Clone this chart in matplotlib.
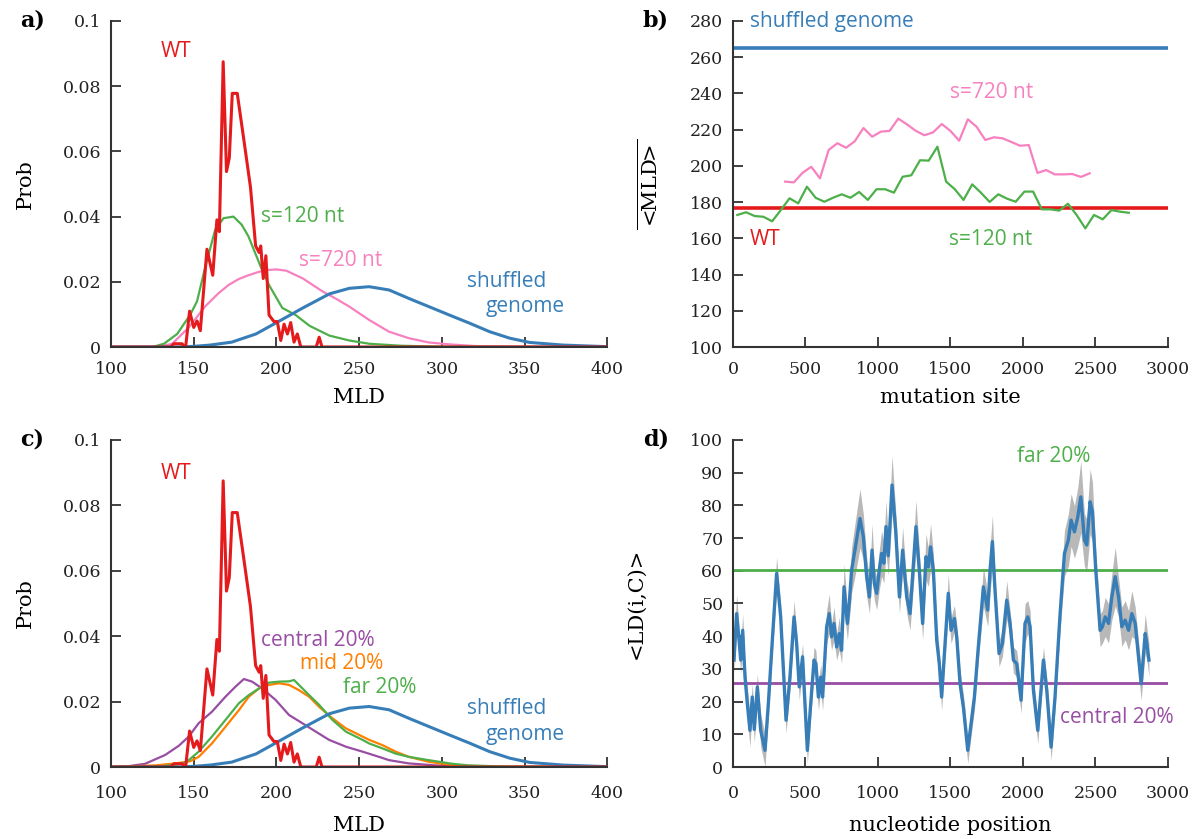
import matplotlib
matplotlib.use('Agg')
import matplotlib.pyplot as plt
import numpy as np

plt.rcParams['font.family'] = 'DejaVu Serif'
plt.rcParams['mathtext.fontset'] = 'dejavuserif'

RED = '#e41a1c'
BLUE = '#377eb8'
GREEN = '#4daf4a'
PINK = '#f781bf'
PURPLE = '#984ea3'
ORANGE = '#ff7f00'
AXC = '#333333'
SANS = 'Open Sans'

# ---- MLD distributions (panels a and c) ----
wt_x = [100, 136, 138, 143, 145, 147.5, 150, 152, 154, 158, 161.5, 164, 165.5, 167.8, 169.8,
        171.5, 173.3, 176.3, 180.3, 184.3, 187.4, 189.5, 190.5, 192, 193.6, 195.5, 198.5,
        200.5, 202.6, 204.6, 206.6, 208.6, 210.6, 212.6, 214.7, 224, 225.8, 227.5, 400]
wt_p = [0, 0, 0.001, 0.001, -0.0005, 0.011, 0.006, 0.008, 0.005, 0.030, 0.022, 0.039, 0.0354,
        0.0875, 0.0538, 0.058, 0.0778, 0.0778, 0.0635, 0.049, 0.031, 0.029, 0.031, 0.021, 0.028,
        0.0098, 0.0078, 0.0078, 0.002, 0.007, 0.004, 0.0075, 0.0015, 0.004, 0, 0, 0.003, 0, 0]

shuf_x = [100, 140, 150, 160, 173, 187.6, 200.8, 216, 232, 244, 256, 268, 280, 292, 304.5,
          316.7, 328.8, 341, 353, 373, 400]
shuf_p = [0, 0, 0.0002, 0.0006, 0.0015, 0.004, 0.0077, 0.012, 0.0163, 0.018, 0.0185, 0.0175,
          0.0149, 0.0124, 0.0098, 0.0073, 0.0047, 0.0027, 0.0014, 0.0006, 0.0001]

s120_x = [100, 125, 132, 140, 148, 152, 157, 163, 168, 174, 179, 183, 187, 191, 195.5, 203.5,
          211.6, 220, 232, 244, 256, 275, 300, 400]
s120_p = [0, 0, 0.001, 0.004, 0.010, 0.014, 0.0246, 0.036, 0.0395, 0.040, 0.0375, 0.034, 0.029,
          0.024, 0.019, 0.012, 0.0098, 0.0065, 0.0035, 0.002, 0.001, 0.0004, 0.0001, 0]

s720_x = [100, 128, 137, 147, 157, 165, 171, 177, 183, 189, 194, 200, 206, 216, 228, 236, 244,
          256, 268, 280, 292, 305, 320, 350, 400]
s720_p = [0, 0, 0.001, 0.006, 0.0125, 0.0165, 0.019, 0.0208, 0.022, 0.023, 0.0236, 0.0238,
          0.0234, 0.021, 0.017, 0.0148, 0.0124, 0.0083, 0.0047, 0.0027, 0.0014, 0.0008, 0.0003,
          0.0001, 0]

central_x = [100, 110, 120.7, 132.8, 141, 147, 153, 161, 169.2, 175.3, 180.3, 185.3, 191.4,
             199.5, 207.6, 215.6, 223.8, 231.8, 242, 252, 262, 268, 280, 296, 320, 400]
central_p = [0, 0.0002, 0.001, 0.0037, 0.0065, 0.0093, 0.0134, 0.0169, 0.0215, 0.0246, 0.0269,
             0.0261, 0.024, 0.0205, 0.0159, 0.0134, 0.0108, 0.0083, 0.0062, 0.0047, 0.0031,
             0.0021, 0.0011, 0.0005, 0.0001, 0]

mid_x = [100, 126.8, 136.8, 144.9, 148, 153, 161, 169.2, 177.3, 183.3, 189.4, 195.5, 201.5,
         207.6, 213.6, 219.7, 225.8, 233.8, 242, 252, 256, 264, 272, 280, 292, 306, 330, 400]
mid_p = [0, 0.0005, 0.001, 0.0015, 0.0018, 0.0031, 0.0072, 0.0123, 0.0174, 0.0215, 0.024,
         0.0251, 0.0256, 0.0251, 0.0235, 0.0215, 0.0184, 0.0149, 0.0118, 0.0093, 0.0083,
         0.0067, 0.0047, 0.0031, 0.0016, 0.0006, 0.0001, 0]

far_x = [100, 130, 143, 147, 153, 161, 169.2, 177.3, 183.3, 189.4, 195.5, 201.5, 207.6, 210.6,
         213.6, 219.7, 225.8, 233.8, 242, 252, 256, 264, 272, 280, 292, 306, 316, 340, 400]
far_p = [0, 0.0002, 0.001, 0.0021, 0.0047, 0.0093, 0.0144, 0.0195, 0.022, 0.024, 0.0258, 0.0261,
         0.0262, 0.0266, 0.0251, 0.022, 0.019, 0.0144, 0.0108, 0.0083, 0.0072, 0.0057, 0.0041,
         0.0031, 0.0021, 0.001, 0.0005, 0.0001, 0]

# ---- panel b: mean MLD vs mutation site ----
wt_mean = 177
shuf_mean = 265
site120 = [30 + 60 * i for i in range(46)]
mld120 = [172.9, 174.4, 172.3, 171.9, 169.4, 175.6, 182.1, 179.3, 188.5, 182.4,
          180.2, 182.4, 184.3, 182.4, 185.6, 181.2, 187.1, 187.1, 185.2, 194.0,
          194.8, 203.1, 202.9, 210.6, 191.3, 187.1, 181.2, 189.8, 185.2, 180.1,
          184.3, 181.9, 180.2, 185.8, 185.8, 176.0, 176.0, 175.3, 179.1, 172.9,
          165.5, 172.9, 170.5, 175.6, 174.7, 174.1]
site720 = [360 + 60 * i for i in range(36)]
mld720 = [191.3, 190.9, 196.2, 199.5, 193.1, 208.8, 212.5, 210.0, 213.6, 220.9,
          216.1, 218.9, 219.3, 226.1, 222.9, 219.4, 216.9, 218.5, 223.1, 219.3,
          213.9, 225.7, 221.6, 214.3, 215.8, 215.2, 213.2, 211.1, 211.5, 196.1,
          197.7, 195.3, 195.3, 195.5, 193.9, 195.9]

# ---- panel d: <LD(i,C)> vs nucleotide position ----
pos = [7, 25, 44, 53, 67, 83, 99, 117, 133, 147,
       168, 191, 221, 244, 267, 301, 329, 366, 393, 421,
       439, 457, 480, 513, 531, 559, 572, 589, 605, 618,
       646, 664, 680, 697, 715, 733, 749, 766, 789, 802,
       818, 841, 876, 899, 922, 941, 959, 975, 991, 1009,
       1025, 1041, 1055, 1071, 1097, 1122, 1148, 1170, 1198, 1221,
       1262, 1285, 1308, 1331, 1347, 1363, 1382, 1405, 1423, 1439,
       1462, 1485, 1504, 1527, 1543, 1566, 1589, 1619, 1642, 1665,
       1692, 1727, 1757, 1773, 1789, 1807, 1835, 1858, 1888, 1911,
       1934, 1957, 1987, 2014, 2033, 2049, 2072, 2102, 2141, 2164,
       2194, 2221, 2256, 2286, 2313, 2332, 2355, 2378, 2399, 2424,
       2440, 2463, 2479, 2502, 2532, 2548, 2567, 2590, 2613, 2636,
       2659, 2682, 2705, 2728, 2751, 2774, 2792, 2815, 2843, 2854,
       2869]
ld = [32.7, 46.9, 37.8, 32.7, 41.8, 27.5, 19.4, 11.2, 21.4, 11.5,
      24.5, 11.2, 5.1, 19.4, 35.7, 59.2, 45.9, 14.3, 27.5, 45.9,
      37.8, 24.5, 33.7, 5.1, 16.3, 32.7, 31.6, 21.4, 27.5, 21.4,
      42.9, 46.9, 39.8, 43.9, 36.7, 40.8, 35.7, 55.1, 43.9, 50.0,
      60.2, 66.3, 76.0, 70.4, 58.2, 52.0, 66.3, 56.1, 53.1, 60.2,
      65.3, 62.3, 73.5, 64.6, 86.2, 72.5, 52.0, 66.3, 52.0, 46.9,
      73.5, 60.2, 43.9, 64.3, 61.2, 67.3, 60.2, 38.8, 31.6, 21.4,
      37.0, 53.1, 41.8, 45.4, 39.8, 25.5, 18.4, 5.1, 13.3, 21.4,
      36.7, 55.1, 48.0, 60.2, 68.9, 54.1, 34.7, 37.8, 51.0, 43.9,
      32.7, 31.6, 20.4, 43.9, 45.9, 42.9, 23.5, 11.2, 32.7, 23.5,
      6.1, 21.4, 46.9, 65.3, 69.4, 75.5, 71.9, 76.5, 82.6, 69.4,
      67.9, 81.1, 78.1, 60.2, 41.8, 42.9, 45.9, 43.9, 52.0, 58.2,
      52.0, 42.9, 44.9, 41.8, 46.9, 43.9, 35.7, 25.5, 40.8, 37.8,
      32.7]
ld_err = [4, 6, 4, 4, 5, 4, 5, 5, 4, 4,
          4, 5, 5, 4, 4, 5, 4, 4, 4, 5,
          4, 4, 4, 4, 4, 4, 4, 4, 4, 4,
          5, 6, 4, 5, 4, 5, 4, 7, 5, 5,
          7, 8, 9, 7, 6, 5, 8, 5, 5, 6,
          7, 6, 8, 6, 9, 6, 5, 7, 5, 5,
          8, 6, 5, 7, 6, 7, 5, 5, 4, 4,
          4, 6, 4, 4, 4, 4, 4, 4, 4, 4,
          4, 6, 5, 7, 8, 5, 4, 4, 6, 4,
          4, 4, 4, 6, 5, 5, 4, 4, 4, 4,
          4, 4, 5, 7, 8, 8, 8, 9, 11, 8,
          8, 10, 9, 6, 5, 5, 6, 6, 7, 9,
          6, 6, 6, 6, 7, 5, 5, 5, 6, 5,
          5]
far_mean = 60.3
central_mean = 25.7


def style(ax, pad):
    for s in ['top', 'right']:
        ax.spines[s].set_visible(False)
    for s in ['left', 'bottom']:
        ax.spines[s].set_color(AXC)
        ax.spines[s].set_linewidth(1.5)
    ax.tick_params(direction='in', length=7, width=1.3, color=AXC,
                   labelsize=12.5, labelcolor='#222222', pad=7)
    ax.tick_params(axis='x', pad=pad)


fig = plt.figure(figsize=(12.01, 8.39), dpi=100)
ax_a = fig.add_axes([0.0924, 0.5864, 0.4134, 0.3886])
ax_b = fig.add_axes([0.6103, 0.5864, 0.3622, 0.3886])
ax_c = fig.add_axes([0.0924, 0.0858, 0.4134, 0.3898])
ax_d = fig.add_axes([0.6103, 0.0858, 0.3622, 0.3898])

prob_ticks = [0, 0.02, 0.04, 0.06, 0.08, 0.1]
prob_labels = ['0', '0.02', '0.04', '0.06', '0.08', '0.1']

# panel a
ax = ax_a
ax.plot(s720_x, s720_p, color=PINK, lw=1.6)
ax.plot(s120_x, s120_p, color=GREEN, lw=1.6)
ax.plot(shuf_x, shuf_p, color=BLUE, lw=2.2)
ax.plot(wt_x, wt_p, color=RED, lw=2.2)
ax.text(130, 0.0905, 'WT', color=RED, fontsize=15, family=SANS, va='center')
ax.text(190.5, 0.0399, 's=120 nt', color=GREEN, fontsize=15, family=SANS, va='center')
ax.text(213.5, 0.0264, 's=720 nt', color=PINK, fontsize=15, family=SANS, va='center')
ax.text(315, 0.0202, 'shuffled', color=BLUE, fontsize=15, family=SANS, va='center')
ax.text(326.5, 0.0123, 'genome', color=BLUE, fontsize=15, family=SANS, va='center')
ax.set_xlim(100, 400)
ax.set_ylim(0, 0.1)
ax.set_xticks(range(100, 401, 50))
ax.set_yticks(prob_ticks)
ax.set_yticklabels(prob_labels)
ax.set_xlabel('MLD', fontsize=15, labelpad=7)
ax.set_ylabel('Prob', fontsize=15, labelpad=20)
style(ax, 10)

# panel b
ax = ax_b
ax.axhline(shuf_mean, color=BLUE, lw=2.6)
ax.axhline(wt_mean, color=RED, lw=2.6)
ax.plot(site720, mld720, color=PINK, lw=1.6)
ax.plot(site120, mld120, color=GREEN, lw=1.6)
ax.text(115, 279.5, 'shuffled genome', color=BLUE, fontsize=15, family=SANS, va='center')
ax.text(1495, 240.5, 's=720 nt', color=PINK, fontsize=15, family=SANS, va='center')
ax.text(115, 159.5, 'WT', color=RED, fontsize=15, family=SANS, va='center')
ax.text(1490, 159.5, 's=120 nt', color=GREEN, fontsize=15, family=SANS, va='center')
ax.set_xlim(0, 3000)
ax.set_ylim(100, 280)
ax.set_xticks(range(0, 3001, 500))
ax.set_yticks(range(100, 281, 20))
ax.set_xlabel('mutation site', fontsize=15, labelpad=7)
ax.set_ylabel(r'$\overline{<\!\!\mathrm{MLD}\!\!>}$', fontsize=15, labelpad=20)
style(ax, 10)

# panel c
ax = ax_c
ax.plot(central_x, central_p, color=PURPLE, lw=1.6)
ax.plot(mid_x, mid_p, color=ORANGE, lw=1.6)
ax.plot(far_x, far_p, color=GREEN, lw=1.6)
ax.plot(shuf_x, shuf_p, color=BLUE, lw=2.2)
ax.plot(wt_x, wt_p, color=RED, lw=2.2)
ax.text(130, 0.0899, 'WT', color=RED, fontsize=15, family=SANS, va='center')
ax.text(190.5, 0.0388, 'central 20%', color=PURPLE, fontsize=15, family=SANS, va='center')
ax.text(214.5, 0.0318, 'mid 20%', color=ORANGE, fontsize=15, family=SANS, va='center')
ax.text(240.5, 0.0242, 'far 20%', color=GREEN, fontsize=15, family=SANS, va='center')
ax.text(315, 0.018, 'shuffled', color=BLUE, fontsize=15, family=SANS, va='center')
ax.text(326.5, 0.0099, 'genome', color=BLUE, fontsize=15, family=SANS, va='center')
ax.set_xlim(100, 400)
ax.set_ylim(0, 0.1)
ax.set_xticks(range(100, 401, 50))
ax.set_yticks(prob_ticks)
ax.set_yticklabels(prob_labels)
ax.set_xlabel('MLD', fontsize=15, labelpad=10)
ax.set_ylabel('Prob', fontsize=15, labelpad=20)
style(ax, 13)

# panel d
ax = ax_d
ld_a = np.array(ld)
err_a = np.array(ld_err)
ax.fill_between(pos, ld_a - err_a, ld_a + err_a, color='#b8b8b8', lw=0)
ax.axhline(far_mean, color=GREEN, lw=2)
ax.axhline(central_mean, color=PURPLE, lw=2)
ax.plot(pos, ld, color=BLUE, lw=2.4)
ax.text(1957, 94.9, 'far 20%', color=GREEN, fontsize=15, family=SANS, va='center')
ax.text(2255, 15.0, 'central 20%', color=PURPLE, fontsize=15, family=SANS, va='center')
ax.set_xlim(0, 3000)
ax.set_ylim(0, 100)
ax.set_xticks(range(0, 3001, 500))
ax.set_yticks(range(0, 101, 10))
ax.set_xlabel('nucleotide position', fontsize=15, labelpad=10)
ax.set_ylabel('<LD(i,C)>', fontsize=15, labelpad=32)
style(ax, 13)

for lab, x, y in [('a)', 0.027, 0.976), ('b)', 0.546, 0.976), ('c)', 0.027, 0.476), ('d)', 0.546, 0.476)]:
    fig.text(x, y, lab, fontsize=16, fontweight='bold', ha='center', va='center')

fig.savefig('out.png', dpi=100)
